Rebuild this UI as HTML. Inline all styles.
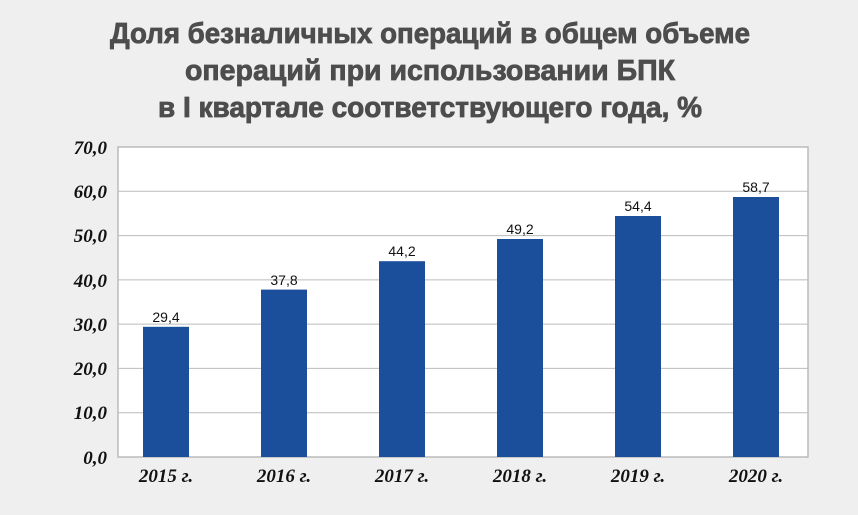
<!DOCTYPE html>
<html><head><meta charset="utf-8"><style>
body{margin:0;width:858px;height:510px;background:#efefef;overflow:hidden}
</style></head><body>
<svg width="858" height="510" xmlns="http://www.w3.org/2000/svg">
<rect width="858" height="510" fill="#efefef"/>
<g font-family="'Liberation Sans Narrow','Liberation Sans',sans-serif" font-weight="bold" font-size="29" fill="#4d4d4d" stroke="#4d4d4d" stroke-width="0.8" text-anchor="middle">
<text x="430" y="43" textLength="640" lengthAdjust="spacingAndGlyphs">Доля безналичных операций в общем объеме</text>
<text x="430" y="80" textLength="490" lengthAdjust="spacingAndGlyphs">операций при использовании БПК</text>
<text x="430" y="117" textLength="544" lengthAdjust="spacingAndGlyphs">в I квартале соответствующего года, %</text>
</g>
<rect x="118" y="147" width="690" height="310" fill="#fff" stroke="#bbb" stroke-width="1.5"/>
<g stroke="#bbb" stroke-width="1">
<line x1="118" x2="808" y1="191.3" y2="191.3"/>
<line x1="118" x2="808" y1="235.6" y2="235.6"/>
<line x1="118" x2="808" y1="279.9" y2="279.9"/>
<line x1="118" x2="808" y1="324.1" y2="324.1"/>
<line x1="118" x2="808" y1="368.4" y2="368.4"/>
<line x1="118" x2="808" y1="412.7" y2="412.7"/>
</g>
<g fill="#1b4f9c">
<rect x="143" y="326.8" width="46" height="130.2"/>
<rect x="261" y="289.6" width="46" height="167.4"/>
<rect x="379" y="261.2" width="46" height="195.8"/>
<rect x="497" y="239.0" width="46" height="218"/>
<rect x="615" y="216.0" width="46" height="241"/>
<rect x="733" y="197.0" width="46" height="260"/>
</g>
<g font-family="'Liberation Sans',sans-serif" font-size="14" fill="#111" text-anchor="middle">
<text x="166" y="322">29,4</text>
<text x="284" y="285">37,8</text>
<text x="402" y="256">44,2</text>
<text x="520" y="234">49,2</text>
<text x="638" y="211">54,4</text>
<text x="756" y="192">58,7</text>
</g>
<g font-family="'Liberation Serif',serif" font-style="italic" font-weight="bold" font-size="19" fill="#111" text-anchor="end">
<text x="107" y="154">70,0</text>
<text x="107" y="198">60,0</text>
<text x="107" y="242">50,0</text>
<text x="107" y="287">40,0</text>
<text x="107" y="331">30,0</text>
<text x="107" y="375">20,0</text>
<text x="107" y="419">10,0</text>
<text x="107" y="464">0,0</text>
</g>
<g font-family="'Liberation Serif',serif" font-style="italic" font-weight="bold" font-size="19" fill="#111" text-anchor="middle">
<text x="166" y="482">2015 г.</text>
<text x="284" y="482">2016 г.</text>
<text x="402" y="482">2017 г.</text>
<text x="520" y="482">2018 г.</text>
<text x="638" y="482">2019 г.</text>
<text x="756" y="482">2020 г.</text>
</g>
</svg>
</body></html>
